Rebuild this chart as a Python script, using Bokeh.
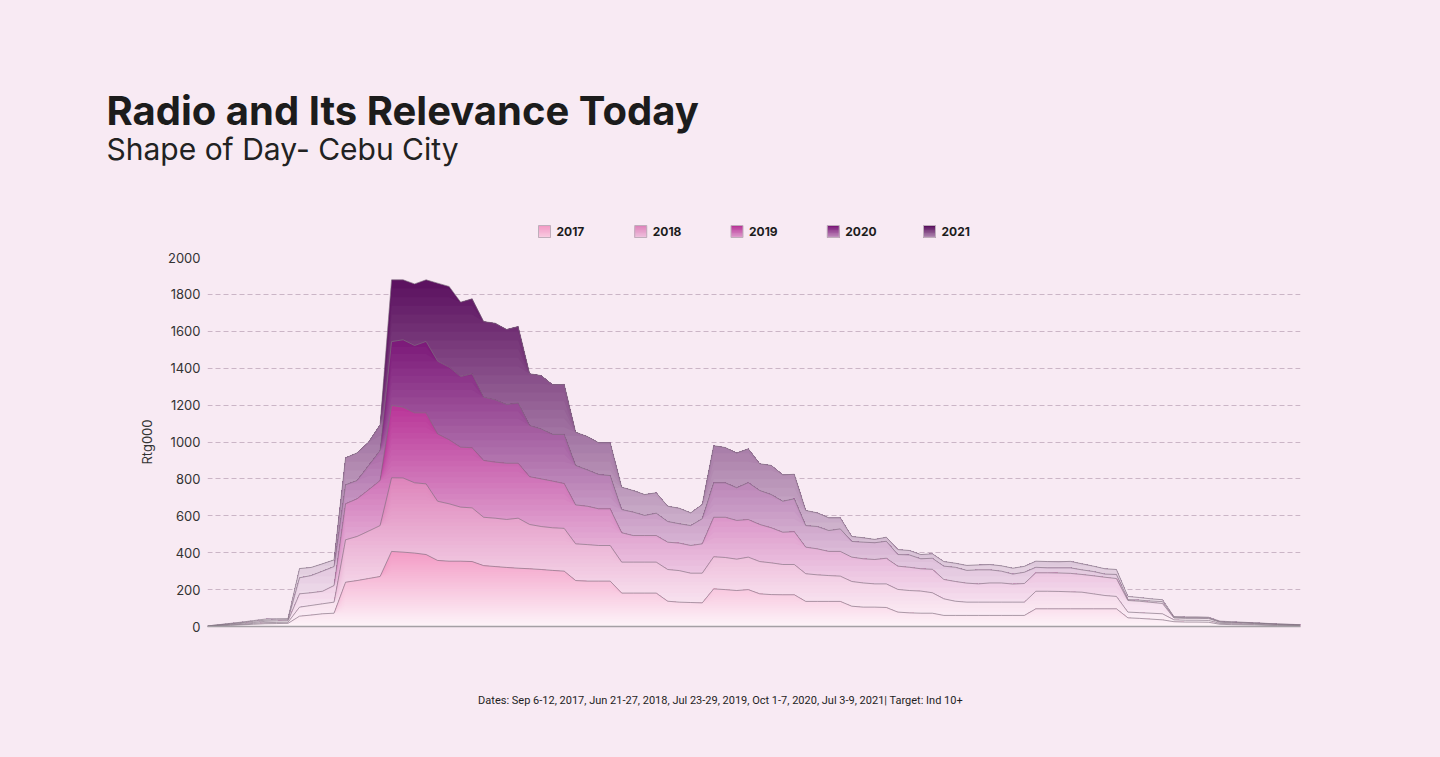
import numpy as np
from bokeh.plotting import figure
from bokeh.layouts import column
from bokeh.models import Range1d, FixedTicker
from bokeh.core.properties import value
from bokeh.embed import file_html
from bokeh.resources import INLINE

# ---------------- data (Rtg000 per quarter-hour slot, 96 slots) ----------------
slots = list(range(96))
years = ["2017", "2018", "2019", "2020", "2021"]

r2017 = [1, 4, 6, 9, 12, 15, 16, 17,
         56, 62, 69, 72, 240, 249, 260, 271,
         407, 403, 398, 390, 358, 354, 354, 352,
         330, 325, 320, 316, 313, 309, 304, 300,
         249, 246, 246, 246, 181, 181, 181, 181,
         137, 132, 130, 128, 204, 200, 195, 200,
         177, 173, 172, 172, 136, 136, 136, 136,
         110, 105, 105, 103, 78, 74, 72, 72,
         60, 60, 60, 60, 60, 60, 60, 60,
         96, 96, 96, 96, 96, 96, 96, 96,
         47, 44, 40, 36, 26, 24, 24, 23,
         12, 10, 9, 8, 6, 5, 4, 3]
r2018 = [1, 1, 3, 3, 5, 6, 6, 6,
         49, 52, 54, 60, 230, 239, 257, 276,
         399, 402, 381, 383, 321, 311, 293, 291,
         262, 262, 260, 271, 240, 233, 231, 232,
         199, 198, 193, 193, 168, 168, 168, 168,
         172, 171, 159, 161, 174, 174, 170, 176,
         175, 172, 164, 164, 150, 144, 140, 137,
         134, 131, 126, 128, 123, 121, 120, 111,
         90, 77, 72, 72, 72, 72, 72, 72,
         95, 95, 94, 92, 90, 81, 72, 67,
         31, 31, 32, 33, 10, 10, 10, 10,
         5, 5, 4, 4, 4, 3, 2, 2]
r2019 = [0, 2, 3, 5, 5, 7, 8, 8,
         72, 69, 68, 90, 195, 204, 224, 244,
         392, 384, 379, 385, 365, 347, 325, 326,
         308, 304, 305, 298, 259, 258, 253, 243,
         211, 208, 199, 199, 159, 144, 144, 144,
         148, 149, 150, 159, 214, 218, 210, 204,
         201, 190, 175, 178, 144, 141, 131, 134,
         132, 131, 132, 139, 126, 126, 121, 127,
         105, 107, 103, 99, 104, 104, 98, 101,
         100, 100, 100, 100, 96, 98, 99, 97,
         63, 62, 59, 56, 10, 10, 10, 10,
         6, 5, 5, 4, 4, 3, 3, 2]
r2020 = [1, 2, 3, 4, 6, 6, 6, 6,
         87, 93, 109, 103, 103, 99, 131, 163,
         346, 365, 365, 387, 394, 394, 383, 401,
         343, 338, 318, 327, 277, 271, 253, 266,
         214, 197, 186, 180, 126, 127, 109, 121,
         112, 105, 108, 136, 187, 187, 177, 200,
         184, 180, 168, 178, 117, 121, 113, 122,
         85, 90, 91, 92, 63, 67, 54, 60,
         72, 77, 69, 76, 71, 64, 54, 61,
         30, 27, 28, 30, 25, 23, 17, 22,
         5, 6, 7, 10, 4, 4, 4, 4,
         3, 3, 3, 3, 2, 2, 2, 2]
r2021 = [0, 1, 2, 3, 4, 6, 6, 6,
         50, 44, 40, 36, 146, 150, 127, 139,
         335, 325, 334, 334, 423, 437, 403, 406,
         410, 415, 407, 414, 281, 289, 269, 271,
         180, 181, 172, 178, 121, 117, 113, 111,
         83, 84, 69, 77, 201, 191, 188, 183,
         145, 158, 143, 133, 82, 74, 69, 60,
         27, 24, 18, 22, 27, 24, 23, 24,
         25, 22, 27, 27, 29, 29, 32, 32,
         33, 34, 33, 35, 33, 29, 29, 27,
         17, 14, 12, 10, 4, 4, 4, 3,
         3, 3, 2, 1, 1, 1, 1, 1]

y_ticks = [0, 200, 400, 600, 800, 1000, 1200, 1400, 1600, 1800, 2000]

title_text = "Radio and Its Relevance Today"
subtitle_text = "Shape of Day- Cebu City"
y_label = "Rtg000"
footnote = "Dates: Sep 6-12, 2017, Jun 21-27, 2018, Jul 23-29, 2019, Oct 1-7, 2020, Jul 3-9, 2021| Target: Ind 10+"

# ---------------- style ----------------
BG = "#f8eaf3"
top_colors = ["#f39bc5", "#de84bb", "#b93598", "#7b1878", "#5a0f5e"]
light_rgb = (253, 244, 249)


def hex_rgb(h):
    h = h.lstrip("#")
    return tuple(int(h[i:i + 2], 16) for i in (0, 2, 4))


def mix(c, f):
    a = hex_rgb(c)
    r = [int(round(light_rgb[k] + (a[k] - light_rgb[k]) * f)) for k in range(3)]
    return "#%02x%02x%02x" % tuple(r)


W = 1440
H_HEAD, H_MAIN, H_FOOT = 250, 430, 77
# frame geometry in page px
FL, FR, FT, FB = 207, 1300, 257, 626


def no_align(f):
    try:
        f.frame_align = False
    except Exception:
        pass


def blank_fig(h, y0):
    f = figure(width=W, height=h, output_backend="svg", toolbar_location=None,
               x_range=Range1d(0, W), y_range=Range1d(y0 + h, y0),
               x_axis_type=None, y_axis_type=None, min_border=0)
    f.background_fill_color = BG
    f.border_fill_color = BG
    f.outline_line_color = None
    f.grid.visible = False
    no_align(f)
    return f


# ---------------- header: title, subtitle, legend ----------------
head = blank_fig(H_HEAD, 0)
head.text(x=[106], y=[110], text=[title_text], text_font=value("Inter"),
          text_font_size=value("40px"), text_font_style="bold", text_color="#1c1c1c",
          text_baseline="middle", text_align="left")
head.text(x=[106], y=[148], text=[subtitle_text], text_font=value("Inter"),
          text_font_size=value("30px"), text_font_style="normal", text_color="#222222",
          text_baseline="middle", text_align="left")

LEG_X0, LEG_STEP, LEG_Y, SQ = 538, 96.25, 225, 12
for k, yr in enumerate(years):
    X0 = LEG_X0 + LEG_STEP * k
    slices = 8
    # overlapping slices (each reaches the square's bottom) -> seamless gradient
    head.quad(left=[X0] * slices, right=[X0 + SQ] * slices,
              top=[LEG_Y + SQ * s / slices for s in range(slices)],
              bottom=[LEG_Y + SQ] * slices,
              fill_color=[mix(top_colors[k], 1 - 0.6 * s / slices) for s in range(slices)],
              line_color=None)
    head.quad(left=[X0], right=[X0 + SQ], top=[LEG_Y], bottom=[LEG_Y + SQ],
              fill_color=None, line_color="#bfaebb", line_width=1)
    head.text(x=[X0 + SQ + 6], y=[LEG_Y + SQ / 2], text=[yr], text_font=value("Inter"),
              text_font_size=value("12px"), text_font_style="bold", text_color="#1c1c1c",
              text_baseline="middle", text_align="left")

# ---------------- main chart ----------------
x_end = len(slots) - 1
p = figure(width=W, height=H_MAIN, output_backend="svg", toolbar_location=None,
           x_range=Range1d(0, x_end), y_range=Range1d(0, 2000),
           min_border_left=FL, min_border_right=W - FR,
           min_border_top=FT - H_HEAD, min_border_bottom=H_HEAD + H_MAIN - FB)
p.background_fill_color = BG
p.border_fill_color = BG
p.outline_line_color = None
no_align(p)

p.xgrid.visible = False
p.ygrid.ticker = FixedTicker(ticks=y_ticks)
p.ygrid.grid_line_color = "#cbb5c6"
p.ygrid.grid_line_dash = "5 3"
p.ygrid.grid_line_width = 1

p.yaxis.ticker = FixedTicker(ticks=y_ticks)
p.yaxis.axis_line_color = None
p.yaxis.major_tick_line_color = None
p.yaxis.major_tick_out = 0
p.yaxis.major_tick_in = 0
p.yaxis.minor_tick_line_color = None
p.yaxis.major_label_standoff = 7
p.yaxis.major_label_text_font = "Inter"
p.yaxis.major_label_text_font_size = "13px"
p.yaxis.major_label_text_color = "#333333"
p.yaxis.axis_label = y_label
p.yaxis.axis_label_text_font = "Inter"
p.yaxis.axis_label_text_font_size = "13px"
p.yaxis.axis_label_text_font_style = "normal"
p.yaxis.axis_label_text_color = "#333333"
p.yaxis.axis_label_standoff = 10

p.xaxis.ticker = FixedTicker(ticks=[])
p.xaxis.major_label_text_font_size = "0px"
p.xaxis.major_tick_line_color = None
p.xaxis.minor_tick_line_color = None
p.xaxis.axis_line_color = "#a5a0a5"
p.xaxis.axis_line_width = 1.5

series = np.array([r2017, r2018, r2019, r2020, r2021], dtype=float)
cum = np.cumsum(series, axis=0)
N = 40
for k in reversed(range(len(years))):
    top = cum[k]
    ymax = top.max()
    for j in range(N, 0, -1):
        hi = ymax * j / N
        p.varea(x=slots, y1=0, y2=np.minimum(top, hi),
                fill_color=mix(top_colors[k], (j - 0.5) / N), fill_alpha=1)
for k in range(len(years)):
    p.line(slots, cum[k], line_color="#807080", line_alpha=0.65, line_width=1)

# ---------------- footer ----------------
foot = blank_fig(H_FOOT, H_HEAD + H_MAIN)
foot.text(x=[720], y=[700], text=[footnote], text_font=value("Roboto"),
          text_font_size=value("11px"), text_font_style="normal", text_color="#1e1e1e",
          text_baseline="middle", text_align="center")

page = column(head, p, foot, spacing=0)
try:
    page.styles = {"background-color": BG}
except Exception:
    pass
open("out.html", "w").write(file_html(page, INLINE))
